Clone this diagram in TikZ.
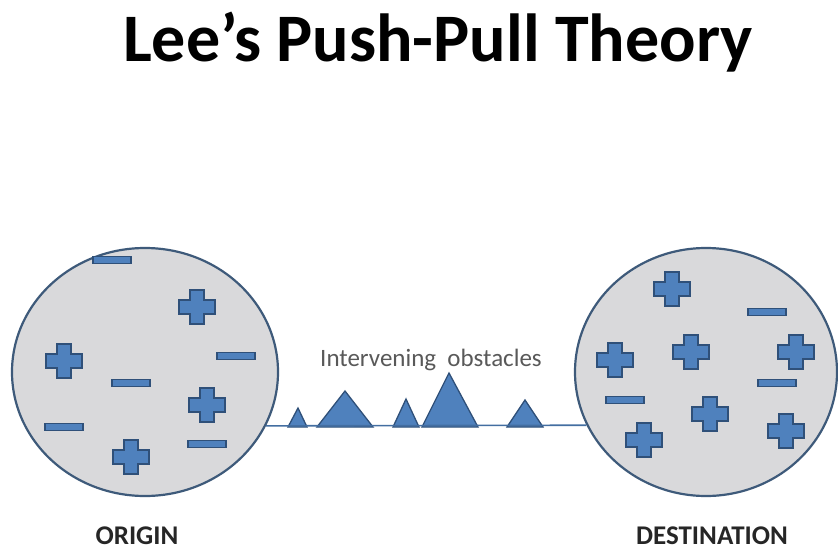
\documentclass[tikz,border=0pt]{standalone}
\usepackage{fontspec}
\setmainfont{Carlito}
\usetikzlibrary{shapes.geometric}
\definecolor{ringline}{HTML}{3E5A7A}
\definecolor{ringfill}{HTML}{D9D9DB}
\definecolor{signfill}{HTML}{4F81BD}
\definecolor{signline}{HTML}{2F5079}
\definecolor{notegray}{HTML}{595959}
\tikzset{
	region/.style = {ellipse, draw=ringline, fill=ringfill, line width=2.2pt,
		minimum width=266pt, minimum height=248pt, inner sep=0pt},% origin, destination
	sign/.style = {fill=signfill, draw=signline, line width=1.5pt},% plus, minus
	peak/.style = {sign, line width=1.3pt},% obstacle
	bridge/.style = {draw=signfill!85!black, line width=1.6pt},
	caption/.style = {font=\fontsize{27}{27}\selectfont\bfseries, text=black!85},
	plussign/.pic = {\path[sign] (-18,-7) -- (-7,-7) -- (-7,-17) -- (7,-17) -- (7,-7)
		-- (18,-7) -- (18,7) -- (7,7) -- (7,17) -- (-7,17) -- (-7,7) -- (-18,7) -- cycle;},
	minussign/.pic = {\path[sign] (-19,-3.5) rectangle (19,3.5);}
}
\begin{document}
\begin{tikzpicture}[x=1pt,y=-1pt]
	\useasboundingbox (0,0) rectangle (838,551);
	\node [anchor=base, font=\fontsize{68}{68}\selectfont\bfseries] (title) at (438,62) {Lee’s Push-Pull Theory};
	\node [region] (origin) at (145,372) {};
	\node [region, minimum width=262pt] (dest) at (706,372) {};
	% signs in the origin
	\foreach \x/\y in {197/307, 64/361, 207/405, 131/457}
		\pic at (\x,\y) {plussign};
	\foreach \x/\y in {112/260, 236/356, 131/383, 64/427, 207/444}
		\pic at (\x,\y) {minussign};
	% signs in the destination
	\foreach \x/\y in {672/289, 615/360, 691/352, 796/352, 710/414, 644/440, 786/431}
		\pic at (\x,\y) {plussign};
	\foreach \x/\y in {767/312, 777/383, 625/400}
		\pic at (\x,\y) {minussign};
	% obstacles
	\foreach \l/\ax/\ay/\r in {288/298/408/307, 317/345/391/373, 393/406/399/419,
		422/449/373/478, 507/525/400/543}
		\path[peak] (\l,427) -- (\ax,\ay) -- (\r,427) -- cycle;
	\draw[bridge] (origin.-24.8) -- (dest.204.8);
	\node [anchor=base, font=\fontsize{25}{25}\selectfont, text=notegray] (obst) at (431,366) {Intervening\ \ obstacles};
	\node [caption, anchor=base] (from) at (137,544) {ORIGIN};
	\node [caption, anchor=base] (to) at (712,544) {DESTINATION};
\end{tikzpicture}
\end{document}
